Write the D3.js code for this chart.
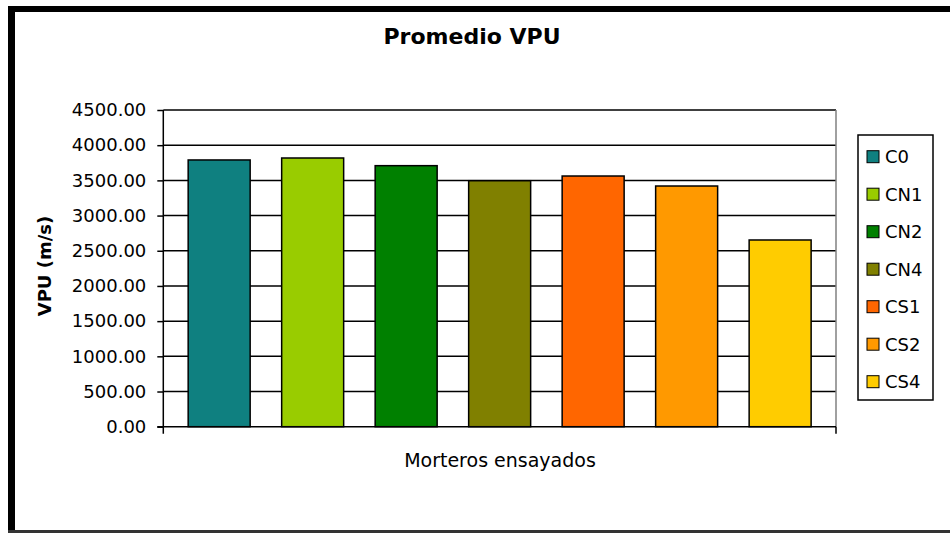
<!DOCTYPE html>
<html>
    <head>
        <meta charset="utf-8">
        <style>
        body {
            margin: 0;
            background: #fff;
        }
        text {
            font-family: "DejaVu Sans", sans-serif;
            fill: #000;
        }
        .axis text {
            font-size: 18px;
        }
        .grid line {
            stroke: #000;
            stroke-width: 1.5px;
        }
        .bar {
            stroke: #000;
            stroke-width: 1.5px;
        }
        </style>
        <script src="https://d3js.org/d3.v7.min.js"></script>
    </head>
    <body>
        <script>

            // data
            var series = ["C0", "CN1", "CN2", "CN4", "CS1", "CS2", "CS4"];
            var values = [3790, 3818, 3709, 3495, 3562, 3420, 2653];
            var colors = ["#0f8080", "#99cc00", "#008000", "#808000", "#ff6600", "#ff9900", "#ffcc00"];
            var yTicks = [0, 500, 1000, 1500, 2000, 2500, 3000, 3500, 4000, 4500];

            var width = 950,
                height = 533;

            // plot area
            var plot = {left: 163.3, right: 836, top: 110, bottom: 426.7};

            var svg = d3.select("body").append("svg")
                .attr("width", width)
                .attr("height", height);

            var x = d3.scaleBand()
                .domain(series)
                .range([plot.left, plot.right])
                .paddingInner(0.337)
                .paddingOuter(0.266);

            var y = d3.scaleLinear()
                .domain([0, 4500])
                .range([plot.bottom, plot.top]);

            // frame
            svg.append("line")
                .attr("x1", 11.5).attr("x2", 11.5)
                .attr("y1", 6).attr("y2", height)
                .attr("stroke", "#000").attr("stroke-width", 7);
            svg.append("line")
                .attr("x1", 8).attr("x2", width)
                .attr("y1", 9).attr("y2", 9)
                .attr("stroke", "#000").attr("stroke-width", 6);
            svg.append("line")
                .attr("x1", 8).attr("x2", width)
                .attr("y1", 531.5).attr("y2", 531.5)
                .attr("stroke", "#333").attr("stroke-width", 3);

            // title
            svg.append("text")
                .attr("x", 472)
                .attr("y", 43.5)
                .attr("text-anchor", "middle")
                .style("font-size", "22px")
                .style("font-weight", "bold")
                .text("Promedio VPU");

            // gridlines
            svg.append("g")
                .attr("class", "grid")
                .selectAll("line")
                .data(yTicks.filter(function(d) { return d > 0; }))
                .enter().append("line")
                .attr("x1", plot.left)
                .attr("x2", plot.right)
                .attr("y1", function(d) { return y(d); })
                .attr("y2", function(d) { return y(d); });

            // right edge of the plot area
            svg.append("line")
                .attr("x1", plot.right).attr("x2", plot.right)
                .attr("y1", plot.top).attr("y2", plot.bottom)
                .attr("stroke", "#808080").attr("stroke-width", 1.5);

            // bars
            svg.append("g")
                .selectAll("rect")
                .data(series)
                .enter().append("rect")
                .attr("class", "bar")
                .attr("x", function(d) { return x(d); })
                .attr("width", x.bandwidth())
                .attr("y", function(d, i) { return y(values[i]); })
                .attr("height", function(d, i) { return y(0) - y(values[i]); })
                .attr("fill", function(d, i) { return colors[i]; });

            // y axis
            var yAxis = d3.axisLeft(y)
                .tickValues(yTicks)
                .tickFormat(d3.format(".2f"))
                .tickSize(6)
                .tickSizeOuter(0)
                .tickPadding(11);

            var yg = svg.append("g")
                .attr("class", "axis")
                .attr("transform", "translate(" + plot.left + ",0)")
                .call(yAxis);
            yg.select(".domain").remove();
            yg.selectAll(".tick line").attr("stroke", "#000").attr("stroke-width", 1.5);

            // axis lines, crossing at the origin
            svg.append("line")
                .attr("x1", plot.left).attr("x2", plot.left)
                .attr("y1", plot.top).attr("y2", plot.bottom + 7)
                .attr("stroke", "#000").attr("stroke-width", 1.5);
            svg.append("line")
                .attr("x1", plot.left - 6).attr("x2", plot.right)
                .attr("y1", plot.bottom).attr("y2", plot.bottom)
                .attr("stroke", "#000").attr("stroke-width", 1.5);
            svg.append("line")
                .attr("x1", plot.right).attr("x2", plot.right)
                .attr("y1", plot.bottom).attr("y2", plot.bottom + 7)
                .attr("stroke", "#000").attr("stroke-width", 1.5);

            // axis titles
            svg.append("text")
                .attr("transform", "translate(51,266) rotate(-90)")
                .attr("text-anchor", "middle")
                .style("font-size", "18px")
                .style("font-weight", "bold")
                .text("VPU (m/s)");

            svg.append("text")
                .attr("x", 500)
                .attr("y", 467)
                .attr("text-anchor", "middle")
                .style("font-size", "19px")
                .text("Morteros ensayados");

            // legend
            var legend = svg.append("g")
                .attr("transform", "translate(858,135)");

            legend.append("rect")
                .attr("width", 75)
                .attr("height", 265)
                .attr("fill", "#fff")
                .attr("stroke", "#000")
                .attr("stroke-width", 1.5);

            var item = legend.selectAll(".item")
                .data(series)
                .enter().append("g")
                .attr("class", "item")
                .attr("transform", function(d, i) { return "translate(0," + (21.7 + i * 37.5) + ")"; });

            item.append("rect")
                .attr("x", 9)
                .attr("y", -6)
                .attr("width", 12)
                .attr("height", 12)
                .attr("fill", function(d, i) { return colors[i]; })
                .attr("stroke", "#000")
                .attr("stroke-width", 1);

            item.append("text")
                .attr("x", 27)
                .attr("dy", "0.36em")
                .style("font-size", "18px")
                .text(function(d) { return d; });

        </script>
    </body>
</html>
